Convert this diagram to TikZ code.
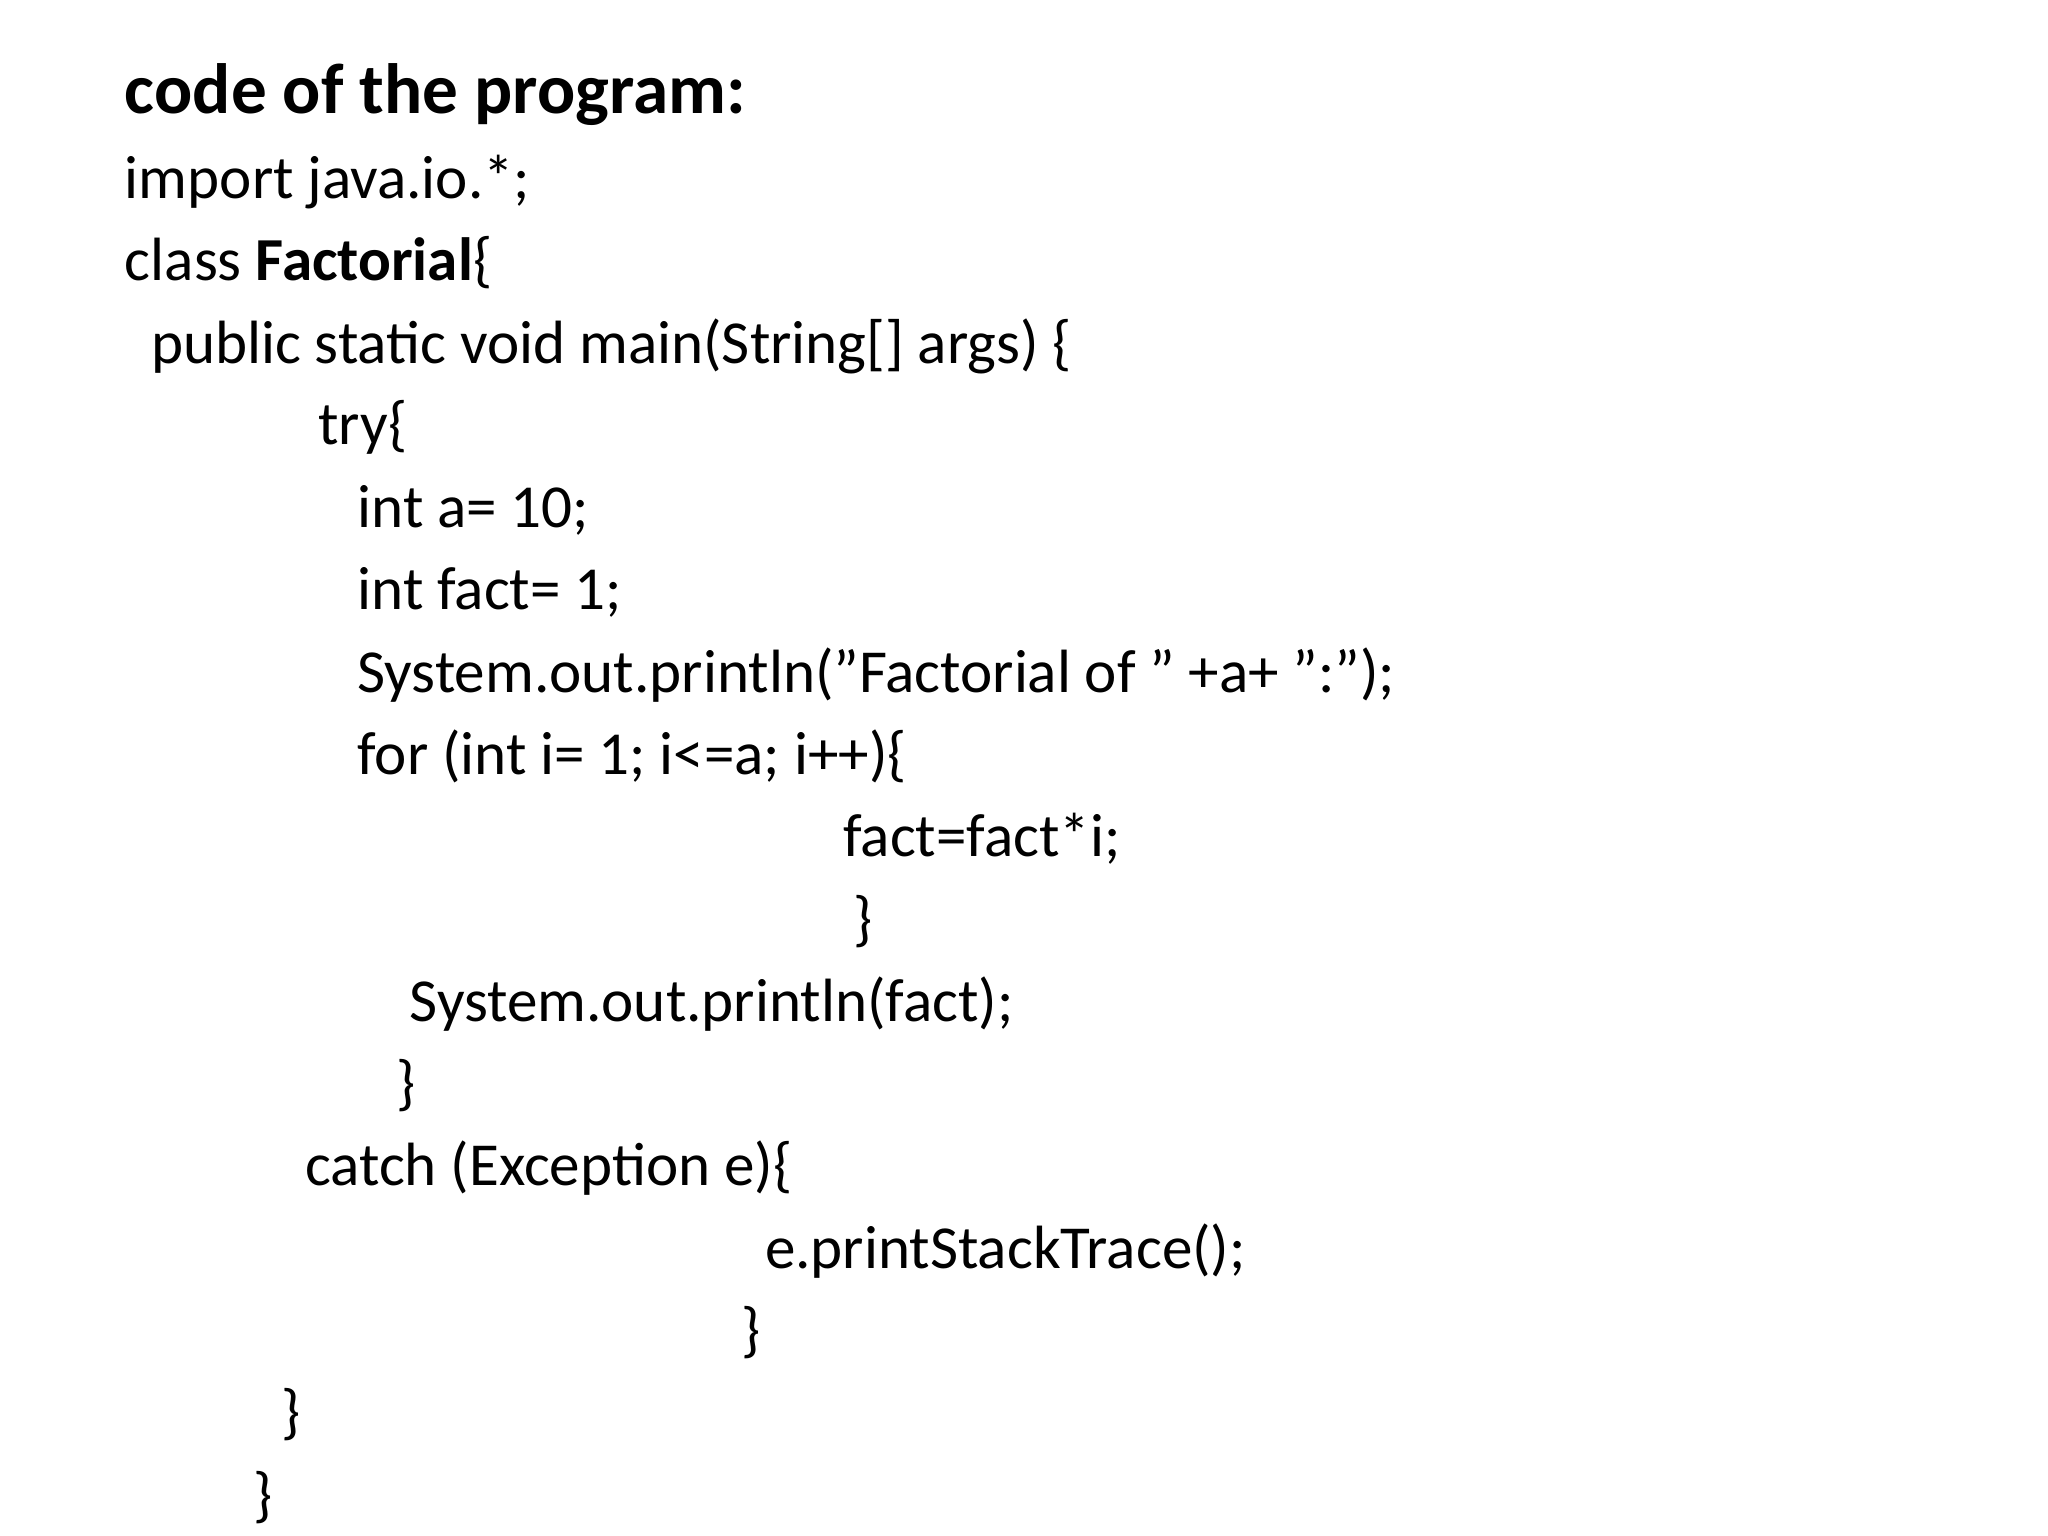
\documentclass[tikz,border=0pt]{standalone}
\usepackage{fontspec}
\setmainfont{Carlito}
\begin{document}
\begin{tikzpicture}[x=0.01cm,y=-0.01cm,
  code/.style={anchor=base west,inner sep=0pt,font=\fontsize{13.3pt}{16pt}\selectfont}]
\useasboundingbox (0,0) rectangle (1568,1176);
\node[code,font=\fontsize{15.5pt}{18pt}\selectfont\bfseries] (t) at (95,87) {code of the program:};
\node[code] (l1) at (95,152) {import java.io.*;};
\node[code] (l2) at (95,215) {class \textbf{Factorial}\{};
\node[code] (l3) at (115,278) {public static void main(String[] args) \{};
\node[code] (l4) at (243,340) {try\{};
\node[code] (l5) at (273,404) {int a= 10;};
\node[code] (l6) at (273,467) {int fact= 1;};
\node[code] (l7) at (273,530) {System.out.println("Factorial of " +a+ ":");};
\node[code] (l8) at (273,593) {for (int i= 1; i<=a; i++)\{};
\node[code] (l9) at (645,656) {fact=fact*i;};
\node[code] (l10) at (653,719) {\}};
\node[code] (l11) at (313,782) {System.out.println(fact);};
\node[code] (l12) at (303,845) {\}};
\node[code] (l13) at (233,908) {catch (Exception e)\{};
\node[code] (l14) at (585,971) {e.printStackTrace();};
\node[code] (l15) at (567,1034) {\}};
\node[code] (l16) at (215,1097) {\}};
\node[code] (l17) at (193,1160) {\}};
\end{tikzpicture}
\end{document}
